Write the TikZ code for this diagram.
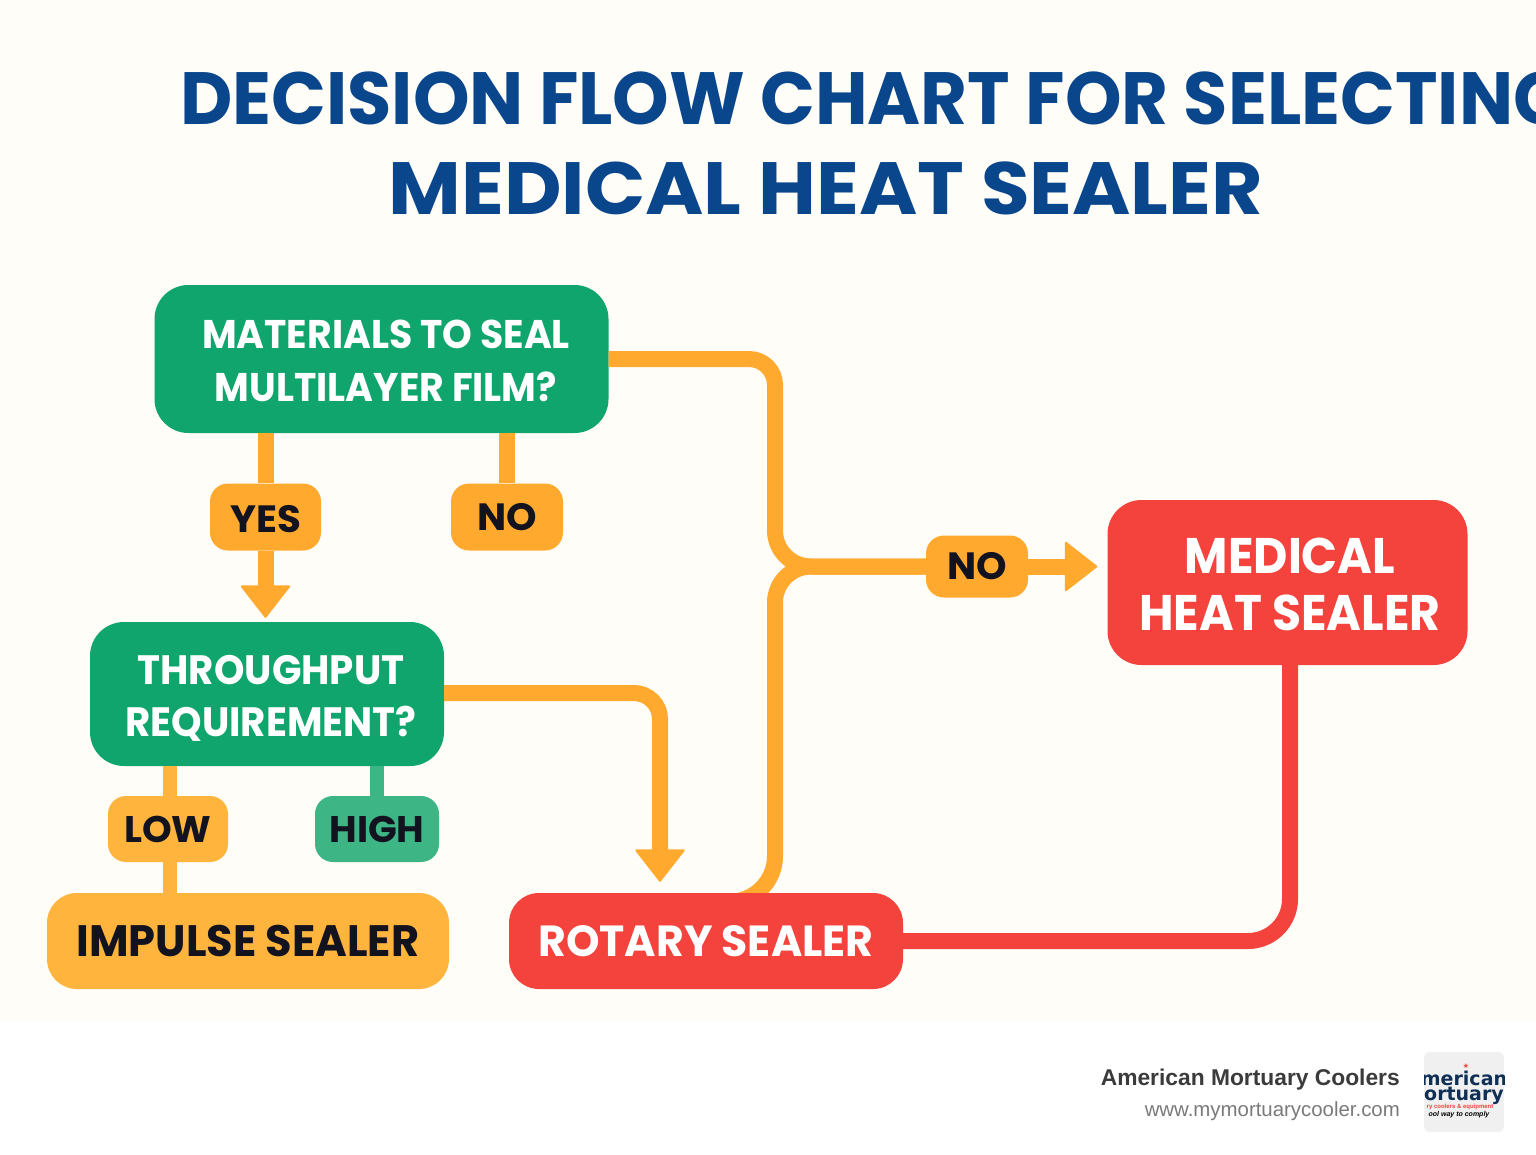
\documentclass[tikz,border=0pt]{standalone}
\usepackage{fontspec}
\setmainfont{Liberation Sans}
\newfontfamily\headfont[FakeStretch=0.973]{Poppins}
\newfontfamily\subheadfont[FakeStretch=1.07]{Poppins}
\newfontfamily\boxfont[FakeStretch=0.945]{Poppins}
\newfontfamily\sealfont[FakeStretch=0.98]{Poppins}
\newfontfamily\tagfont[FakeStretch=1.02]{Poppins}
\newfontfamily\logofont{DejaVu Sans}
\usetikzlibrary{arrows.meta, backgrounds}
\definecolor{cream}{HTML}{FFFDF8}
\definecolor{titleblue}{HTML}{0A468C}
\definecolor{sealgreen}{HTML}{0FA56C}
\definecolor{highgreen}{HTML}{3DB585}
\definecolor{flowamber}{HTML}{FFA92E}
\definecolor{softamber}{HTML}{FFB53D}
\definecolor{sealred}{HTML}{F4433C}
\definecolor{inkblack}{HTML}{12131F}
\definecolor{logonavy}{HTML}{0F2F55}
\newcommand{\dropline}[1]{\rule{0pt}{#1em}}
\tikzset{
  box/.style={rounded corners=#1, inner sep=0pt, align=center, text=white},
  box/.default=34pt,
  tag/.style={rounded corners=18pt, inner sep=0pt, text=inkblack, fill=flowamber,
    font=\tagfont\bfseries\fontsize{38}{38}\selectfont},
  flow/.style={line width=16pt, draw=flowamber},
  tipped/.style={-{Triangle[width=51pt,length=33pt,line width=2pt,round]}}
}
\begin{document}
\begin{tikzpicture}[x=1pt,y=-1pt]
    \useasboundingbox (0,0) rectangle (1536,1154);
    \clip (0,0) rectangle (1536,1154);

    % title
    \node[anchor=west, inner sep=0pt, text=titleblue, font=\headfont\bfseries\fontsize{74}{74}\selectfont]
      (titleone) at (180,98) {DECISION FLOW CHART FOR SELECTING};
    \node[inner sep=0pt, text=titleblue, font=\subheadfont\bfseries\fontsize{74}{74}\selectfont]
      (titletwo) at (826,188) {MEDICAL HEAT SEALER};

    % boxes
    \node[box, fill=sealgreen, minimum width=454pt, minimum height=148pt,
      font=\boxfont\bfseries\fontsize{40}{53}\selectfont]
      (materials) at (381.5,359) {\dropline{0.8}\hspace*{9pt}MATERIALS TO SEAL\\\hspace*{9pt}MULTILAYER FILM?};
    \node[box, fill=sealgreen, minimum width=354pt, minimum height=144pt,
      font=\boxfont\bfseries\fontsize{41}{52}\selectfont]
      (throughput) at (267,694) {\dropline{0.9}\hspace*{8pt}THROUGHPUT\\\hspace*{8pt}REQUIREMENT?};
    \node[box=30pt, fill=softamber, text=inkblack, minimum width=402pt, minimum height=96pt,
      font=\sealfont\bfseries\fontsize{44}{44}\selectfont]
      (impulse) at (248,941) {IMPULSE SEALER};
    \node[box=30pt, fill=sealred, minimum width=394pt, minimum height=96pt,
      font=\sealfont\bfseries\fontsize{43.5}{44}\selectfont]
      (rotary) at (706,941) {ROTARY SEALER};
    \node[box, fill=sealred, minimum width=360pt, minimum height=165pt,
      font=\boxfont\bfseries\fontsize{50}{57}\selectfont]
      (medical) at (1287.5,582.5) {\dropline{0.8}\hspace*{5pt}MEDICAL\\\hspace*{5pt}HEAT SEALER};

    % tags
    \node[tag, minimum width=111pt, minimum height=67pt] (yes) at (265.5,517) {\dropline{0.8}YES};
    \node[tag, minimum width=112pt, minimum height=67pt] (nofilm) at (507,517) {NO};
    \node[tag, minimum width=102pt, minimum height=62pt] (nomerge) at (977,566.5) {NO};
    \node[tag, fill=softamber, minimum width=120pt, minimum height=66pt, font=\tagfont\bfseries\fontsize{37}{37}\selectfont] (low) at (168,829) {LOW};
    \node[tag, fill=highgreen, minimum width=124pt, minimum height=66pt, font=\tagfont\bfseries\fontsize{37}{37}\selectfont] (high) at (377,829) {HIGH};

    % connectors
    \draw[flow] (materials.south -| yes) -- (yes.north);
    \draw[flow] (materials.south -| nofilm) -- (nofilm.north);
    \draw[flow, tipped, shorten >=4pt] (yes.south) -- (yes.south |- throughput.north);
    \draw[flow, softamber, line width=14pt] ([xshift=2pt]throughput.south -| low) -- ([xshift=2pt]low.north);
    \draw[flow, softamber, line width=14pt] ([xshift=2pt]low.south) -- ([xshift=2pt]low.south |- impulse.north);
    \draw[flow, highgreen, line width=14pt] (throughput.south -| high) -- (high.north);
    \coordinate (turnone) at (775,359);
    \coordinate (merge) at (775,566.5);
    \coordinate (turntwo) at (775,902);
    \coordinate (turnthree) at (660,693);
    \coordinate (turnfour) at (1290,941);
    \draw[flow, rounded corners=26pt] (materials.east) -- (turnone)
      [rounded corners=36pt] -- (merge) -- (nomerge.west);
    \draw[flow, tipped, shorten >=10pt] (nomerge.east) -- (nomerge.east -| medical.west);
    \draw[flow, tipped, shorten >=11pt, rounded corners=26pt] (throughput.east |- turnthree) -- (turnthree)
      -- (turnthree |- rotary.north);
    \draw[flow, draw=sealred, rounded corners=42pt] (medical.south -| turnfour) -- (turnfour) -- (rotary.east);

    % paper and the branch that runs behind the rotary box
    \begin{pgfonlayer}{background}
      \fill[white] (0,0) rectangle (1536,1154);
      \fill[cream] (0,0) rectangle (1536,1022);
      \draw[flow, rounded corners=46pt] ([xshift=16pt,yshift=-9pt]rotary.north) -- (turntwo)
        [rounded corners=36pt] -- (merge) -- (nomerge.west);
    \end{pgfonlayer}

    % footer
    \node[anchor=east, inner sep=0pt, text=black!77, font=\bfseries\fontsize{22.8}{24}\selectfont]
      (company) at (1400,1080) {American Mortuary Coolers};
    \node[anchor=east, inner sep=0pt, text=black!52, font=\fontsize{20.4}{22}\selectfont]
      (website) at (1400,1111) {www.mymortuarycooler.com};

    % logo
    \begin{scope}
      \clip[rounded corners=6pt] (1424,1052) rectangle (1504,1132);
      \fill[black!6] (1424,1052) rectangle (1504,1132);
      \node[text=sealred, inner sep=0pt, font=\logofont\fontsize{7}{7}\selectfont] (logostar) at (1466,1066) {★};
      \node[text=logonavy, inner sep=0pt, font=\logofont\bfseries\fontsize{19}{19}\selectfont] (logoone) at (1464,1078) {merican};
      \node[text=logonavy, inner sep=0pt, font=\logofont\bfseries\fontsize{19}{19}\selectfont] (logotwo) at (1464,1096) {ortuary};
      \node[text=sealred, inner sep=0pt, font=\bfseries\fontsize{6}{6}\selectfont] (logothree) at (1460,1107) {ry coolers \& equipment};
      \node[text=black, inner sep=0pt, font=\itshape\bfseries\fontsize{7}{7}\selectfont] (logofour) at (1459,1115) {ool way to comply};
    \end{scope}
  \end{tikzpicture}
\end{document}
